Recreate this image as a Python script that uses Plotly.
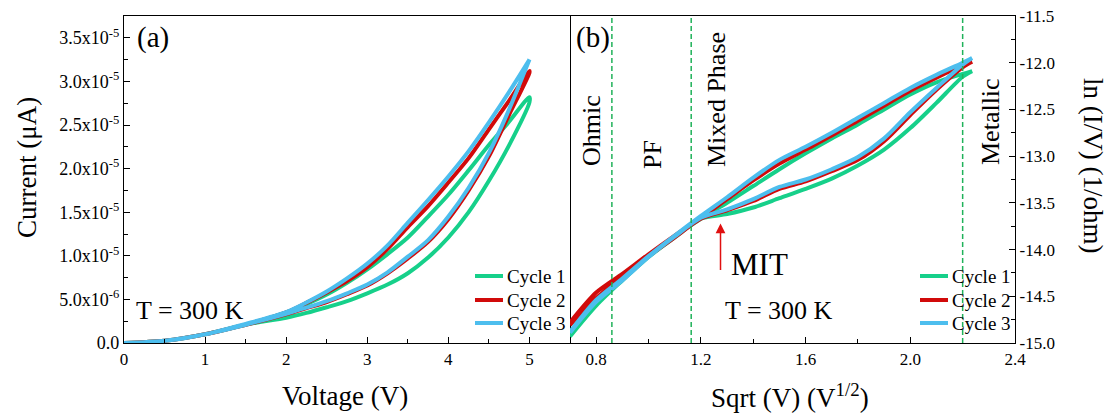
import plotly.graph_objects as go

W, H = 1113, 417
FONT = "Liberation Serif, Times New Roman, Times, serif"

# ---------------- data: panel (a)  I-V loops ----------------
v_up = [0, 0.5, 1.0, 1.5, 2.0, 2.25, 2.5, 2.75, 3.0, 3.25, 3.5, 3.75, 4.0, 4.25, 4.5, 4.75, 5.0]
v_down = v_up[::-1]

c1_i_up = [0, 0.025, 0.10, 0.21, 0.29, 0.345, 0.41, 0.48, 0.57, 0.67, 0.80, 0.98, 1.21,
           1.50, 1.86, 2.27, 2.76]
c1_i_down = [2.82, 2.54, 2.27, 1.98, 1.70, 1.45, 1.21, 1.02, 0.845, 0.69, 0.555, 0.445, 0.35,
             0.21, 0.10, 0.025, 0]
c2_i_up = [0, 0.025, 0.10, 0.21, 0.33, 0.40, 0.47, 0.56, 0.66, 0.80, 0.97, 1.16, 1.42,
           1.75, 2.14, 2.62, 3.10]
c2_i_down = [3.12, 2.78, 2.45, 2.12, 1.84, 1.57, 1.33, 1.08, 0.87, 0.71, 0.58, 0.46, 0.35,
             0.21, 0.10, 0.025, 0]
c3_i_up = [0, 0.025, 0.10, 0.21, 0.335, 0.405, 0.48, 0.57, 0.67, 0.81, 0.99, 1.18, 1.45,
           1.78, 2.18, 2.68, 3.25]
c3_i_down = [3.25, 2.88, 2.53, 2.20, 1.91, 1.64, 1.38, 1.12, 0.91, 0.74, 0.59, 0.465, 0.355,
             0.22, 0.10, 0.025, 0]
i_scale = 1e-5  # values above are in units of 1e-5 A

# ---------------- data: panel (b)  ln(I/V) vs sqrt(V) ----------------
s_up = [0.7, 0.8, 0.9, 1.0, 1.1, 1.2, 1.3, 1.4, 1.5, 1.6, 1.7, 1.8, 1.9, 2.0, 2.1, 2.2, 2.236]
s_down = s_up[::-1]

c1_ln_up = [-14.93, -14.60, -14.33, -14.08, -13.87, -13.67, -13.62, -13.55, -13.45, -13.35,
            -13.24, -13.10, -12.93, -12.70, -12.43, -12.15, -12.09]
c1_ln_down = [-12.09, -12.12, -12.21, -12.34, -12.50, -12.66, -12.81, -12.97, -13.14, -13.32,
              -13.50, -13.67, -13.86, -14.08, -14.33, -14.58, -14.92]
c2_ln_up = [-14.81, -14.52, -14.29, -14.07, -13.87, -13.67, -13.58, -13.48, -13.35, -13.27,
            -13.16, -13.04, -12.84, -12.56, -12.29, -12.05, -11.99]
c2_ln_down = [-11.99, -12.03, -12.16, -12.30, -12.46, -12.62, -12.78, -12.93, -13.08, -13.26,
              -13.46, -13.66, -13.85, -14.05, -14.26, -14.46, -14.78]
c3_ln_up = [-14.89, -14.56, -14.33, -14.08, -13.86, -13.66, -13.57, -13.46, -13.33, -13.25,
            -13.14, -13.01, -12.81, -12.53, -12.27, -12.02, -11.95]
c3_ln_down = [-11.95, -12.00, -12.13, -12.27, -12.43, -12.59, -12.75, -12.90, -13.04, -13.23,
              -13.44, -13.64, -13.85, -14.07, -14.31, -14.54, -14.88]

regime_bounds = [0.86, 1.163, 2.2]
mit_point = (1.275, -13.72)

cycle_names = ["Cycle 1", "Cycle 2", "Cycle 3"]
cycle_colors = ["#16D08A", "#D10A0A", "#4DBEEE"]

ya_tickvals = [0, 0.5e-5, 1.0e-5, 1.5e-5, 2.0e-5, 2.5e-5, 3.0e-5, 3.5e-5]
ya_ticktext = ["0.0", "5.0x10<sup>-6</sup>", "1.0x10<sup>-5</sup>", "1.5x10<sup>-5</sup>",
               "2.0x10<sup>-5</sup>", "2.5x10<sup>-5</sup>", "3.0x10<sup>-5</sup>",
               "3.5x10<sup>-5</sup>"]
xb_tickvals = [0.8, 1.2, 1.6, 2.0, 2.4]
xb_ticktext = ["0.8", "1.2", "1.6", "2.0", "2.4"]
yb_tickvals = [-15.0, -14.5, -14.0, -13.5, -13.0, -12.5, -12.0, -11.5]
yb_ticktext = ["-15.0", "-14.5", "-14.0", "-13.5", "-13.0", "-12.5", "-12.0", "-11.5"]

# ---------------- figure ----------------
fig = go.Figure()

left_sets = [(c1_i_up, c1_i_down), (c2_i_up, c2_i_down), (c3_i_up, c3_i_down)]
right_sets = [(c1_ln_up, c1_ln_down), (c2_ln_up, c2_ln_down), (c3_ln_up, c3_ln_down)]

for name, col, (up, down) in zip(cycle_names, cycle_colors, left_sets):
    fig.add_trace(go.Scatter(
        x=v_up + v_down, y=[v * i_scale for v in up + down], mode="lines", name=name,
        line=dict(color=col, width=4, shape="spline", smoothing=0.8),
        xaxis="x", yaxis="y", showlegend=False))

for name, col, (up, down) in zip(cycle_names, cycle_colors, right_sets):
    fig.add_trace(go.Scatter(
        x=s_up + s_down, y=up + down, mode="lines", name=name,
        line=dict(color=col, width=4, shape="spline", smoothing=0.8),
        xaxis="x2", yaxis="y2", showlegend=False))


def px(x):
    return x / W


def py(y):
    return 1 - y / H


x_left, x_mid, x_right = 124, 570, 1015
y_top, y_bot = 16, 343

axis_common = dict(
    showline=True, linecolor="black", linewidth=1.3,
    ticks="inside", ticklen=6, tickwidth=1.3, tickcolor="black",
    showgrid=False, zeroline=False, automargin=False,
)
tick_font = dict(family=FONT, size=17, color="black")
minor_common = dict(ticks="inside", ticklen=4, tickwidth=1.3, tickcolor="black", showgrid=False)

fig.update_layout(
    width=W, height=H, autosize=False,
    margin=dict(l=0, r=0, t=0, b=0),
    paper_bgcolor="white", plot_bgcolor="white",
    font=dict(family=FONT, color="black"),
    showlegend=False,
    xaxis=dict(domain=[px(x_left), px(x_mid)], range=[0, 5.5], anchor="y", mirror=True,
               dtick=1, tick0=0, tickfont=tick_font,
               minor=dict(dtick=0.5, **minor_common), **axis_common),
    yaxis=dict(domain=[py(y_bot), py(y_top)], range=[0, 3.75e-5], anchor="x", mirror=True,
               tickvals=ya_tickvals, ticktext=ya_ticktext,
               tickfont=dict(family=FONT, size=18, color="black"),
               minor=dict(dtick=2.5e-6, tick0=0, **minor_common), **axis_common),
    xaxis2=dict(domain=[px(x_mid), px(x_right)], range=[0.7, 2.4], anchor="y2", mirror=True,
                tickvals=xb_tickvals, ticktext=xb_ticktext, tickfont=tick_font,
                minor=dict(dtick=0.2, tick0=0.8, **minor_common), **axis_common),
    yaxis2=dict(domain=[py(y_bot), py(y_top)], range=[-15, -11.5], anchor="x2", side="right",
                mirror=False, tickvals=yb_tickvals, ticktext=yb_ticktext, tickfont=tick_font,
                minor=dict(dtick=0.25, tick0=-15, **minor_common), **axis_common),
)

for xb in regime_bounds:
    fig.add_shape(type="line", xref="x2", yref="y2 domain", x0=xb, x1=xb, y0=0, y1=1,
                  line=dict(color="#20B25A", width=1.5, dash="5px,3px"))

ann = []


def txt(text, x, y, size, angle=0, color="black", xanchor="center"):
    ann.append(dict(text=text, x=px(x), y=py(y), xref="paper", yref="paper",
                    xanchor=xanchor, yanchor="middle", showarrow=False, textangle=angle,
                    font=dict(family=FONT, size=size, color=color)))


# legends (one per panel)
legend_rows = [276, 300, 323]
for lx in (475, 920):
    for name, col, ry in zip(cycle_names, cycle_colors, legend_rows):
        fig.add_shape(type="line", xref="paper", yref="paper",
                      x0=px(lx), x1=px(lx + 28), y0=py(ry), y1=py(ry),
                      line=dict(color=col, width=4))
        txt(name, lx + 30, ry, 19, xanchor="left")

txt("Current (\u03bcA)", 27, 168, 27, angle=-90)
txt("ln (I/V) (1/ohm)", 1093, 165, 27, angle=90)
txt("Voltage (V)", 345, 396, 27)
txt("Sqrt (V) (V<sup>1/2</sup>)", 790, 396, 27)
txt("(a)", 153, 37, 29)
txt("(b)", 593, 37, 29)
txt("T = 300 K", 190, 310, 26)
txt("T = 300 K", 779, 310, 26)
txt("MIT", 759, 264, 31)
txt("Ohmic", 591, 131, 26, angle=-90)
txt("PF", 652, 155, 26, angle=-90)
txt("Mixed Phase", 716, 100, 26, angle=-90)
txt("Metallic", 991, 122, 26, angle=-90)

ann.append(dict(x=mit_point[0], y=mit_point[1], xref="x2", yref="y2", text="",
                showarrow=True, arrowhead=2, arrowsize=1.3, arrowwidth=1.5,
                arrowcolor="#E01010", ax=0, ay=48, axref="pixel", ayref="pixel"))

fig.update_layout(annotations=ann)

fig.write_html("out.html")
